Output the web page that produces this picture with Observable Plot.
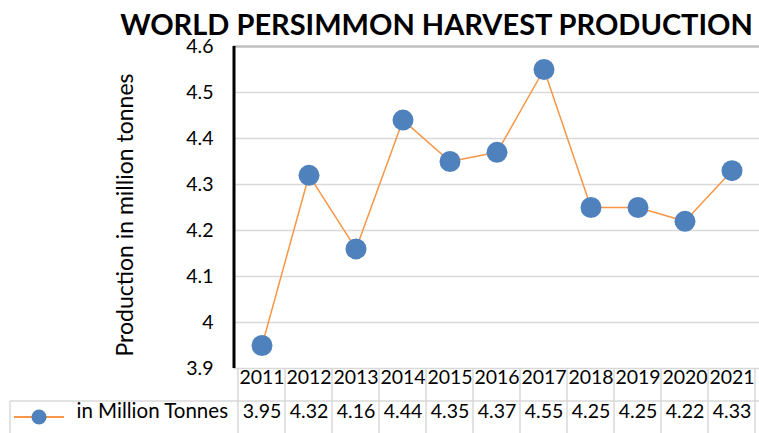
<!DOCTYPE html>
<html><head><meta charset="utf-8">
<script src="https://cdn.jsdelivr.net/npm/d3@7"></script>
<script src="https://cdn.jsdelivr.net/npm/@observablehq/plot@0.6"></script>
<style>
body{margin:0;background:#fff}
#chart{width:759px;height:433px}
#chart svg{font-family:Lato,sans-serif}
</style></head>
<body><div id="chart"></div>
<script>
const title = "WORLD PERSIMMON HARVEST PRODUCTION";
const yLabel = "Production in million tonnes";
const seriesName = "in Million Tonnes";
const years = ["2011","2012","2013","2014","2015","2016","2017","2018","2019","2020","2021"];
const production = [3.95, 4.32, 4.16, 4.44, 4.35, 4.37, 4.55, 4.25, 4.25, 4.22, 4.33];
const yTicks = [3.9, 4.0, 4.1, 4.2, 4.3, 4.4, 4.5, 4.6];

const data = years.map((y, i) => ({year: y, value: production[i]}));
const BLUE = "#4F81BD", ORANGE = "#F79646", GRID = "#d9d9d9";

function tableMark(index, scales, values, dims) {
  const x = scales.x, y = scales.y;
  const left = dims.marginLeft, right = dims.width - dims.marginRight;
  const top = dims.marginTop, bottom = dims.height - dims.marginBottom;
  const bw = x(years[1]) - x(years[0]);
  const g = d3.create("svg:g");
  const rowSplit = bottom + 33;
  for (let i = 0; i <= years.length; i++) {
    const xx = x(years[0]) + i * bw;
    g.append("line").attr("x1", xx).attr("x2", xx).attr("y1", bottom).attr("y2", dims.height)
      .attr("stroke", GRID).attr("stroke-width", 1.5);
  }
  g.append("line").attr("x1", 10).attr("x2", right).attr("y1", rowSplit).attr("y2", rowSplit)
    .attr("stroke", GRID).attr("stroke-width", 1.5);
  g.append("line").attr("x1", 10).attr("x2", 10).attr("y1", rowSplit).attr("y2", dims.height)
    .attr("stroke", GRID).attr("stroke-width", 1.5);
  const ly = bottom + 49;
  g.append("line").attr("x1", 14).attr("x2", 64).attr("y1", ly).attr("y2", ly)
    .attr("stroke", ORANGE).attr("stroke-width", 2);
  g.append("circle").attr("cx", 39).attr("cy", ly).attr("r", 7.5).attr("fill", BLUE);
  g.append("line").attr("x1", left + 1).attr("x2", left + 1).attr("y1", top).attr("y2", bottom)
    .attr("stroke", "#000").attr("stroke-width", 3);
  const cy = (y(3.9) + y(4.6)) / 2 + 8;
  g.append("text").attr("transform", `translate(${left - 108},${cy}) rotate(-90)`)
    .attr("text-anchor", "middle").attr("dy", "0.35em")
    .attr("font-size", 23).attr("fill", "#000").text(yLabel);
  return g.node();
}

const chart = Plot.plot({
  width: 759,
  height: 433,
  marginLeft: 233,
  marginRight: 0,
  marginTop: 46,
  marginBottom: 65,
  x: {type: "band", domain: years, padding: 0, axis: null},
  y: {domain: [3.9, 4.6], axis: null},
  marks: [
    Plot.gridY(yTicks.slice(0, -1), {stroke: GRID, strokeOpacity: 1, strokeWidth: 1.5}),
    Plot.ruleY([yTicks[yTicks.length - 1]], {stroke: "#bfbfbf", strokeWidth: 2.5}),
    Plot.axisY(yTicks, {tickSize: 0, tickPadding: 20, fontSize: 19.5, fill: "#000", label: null,
      tickFormat: d => String(+d.toFixed(1))}),
    Plot.text([title], {frameAnchor: "top", dx: -60, dy: -12, lineAnchor: "bottom", fontSize: 29, fontWeight: 700, fill: "#000"}),
    tableMark,
    Plot.line(data, {x: "year", y: "value", stroke: ORANGE, strokeWidth: 1.5}),
    Plot.dot(data, {x: "year", y: "value", r: 10.5, fill: BLUE}),
    Plot.text(years, {x: d => d, frameAnchor: "bottom", dy: 15, fontSize: 19.5, fill: "#000"}),
    Plot.text(data, {x: "year", text: d => d.value.toFixed(2), frameAnchor: "bottom", dy: 49, fontSize: 19.5, fill: "#000"}),
    Plot.text([seriesName], {frameAnchor: "bottom-left", dx: -157, dy: 49, textAnchor: "start", fontSize: 20.5, fill: "#000"})
  ]
});
document.getElementById("chart").appendChild(chart);
</script>
</body></html>
